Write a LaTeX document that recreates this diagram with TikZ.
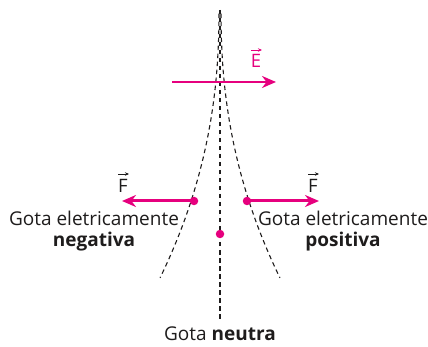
\documentclass[tikz,border=0pt]{standalone}
\usepackage{fontspec}
\setmainfont{Open Sans}
\usetikzlibrary{arrows.meta}
\definecolor{mag}{RGB}{230,0,126}
\definecolor{txt}{RGB}{30,28,28}
\begin{document}
\begin{tikzpicture}[x=1pt,y=-1pt,
  dashline/.style={draw=txt, line width=1.1pt, dash pattern=on 4.5pt off 3.5pt},
  force/.style={draw=mag, line width=3pt, -{Stealth[length=14pt,width=12pt]}},
  drop/.style={circle, fill=mag, inner sep=0pt, minimum size=8.5pt},
  lbl/.style={text=txt, font=\fontsize{19}{22}\selectfont, inner sep=0pt, anchor=base},
  veclbl/.style={font=\fontsize{18.5}{21}\selectfont, inner sep=0pt, anchor=base},
  vecarrow/.style={line width=0.8pt, -{Stealth[length=4pt,width=3.5pt]}}]
\useasboundingbox (0,0) rectangle (428,347);
% field lines
\coordinate (top) at (220,10);
\coordinate (bot) at (220,320);
\draw[dashline] (top) -- (bot);
\draw[dashline] plot[domain=0.01:1, samples=60] ({219-59*pow(\x,2.2)}, {11+267*\x});
\draw[dashline] plot[domain=0.01:1, samples=60] ({221+59*pow(\x,2.2)}, {11+267*\x});
% E field
\coordinate (Es) at (172,82);
\coordinate (Ee) at (276,82);
\draw[force, line width=2.4pt] (Es) -- (Ee);
\node[veclbl, text=mag] (E) at (256,68) {E};
\draw[vecarrow, draw=mag] ([xshift=-5pt,yshift=18pt]E.base) -- ([xshift=6pt,yshift=18pt]E.base);
% drops
\node[drop] (dL) at (194,201) {};
\node[drop] (dR) at (247,201) {};
\node[drop] (dM) at (220,234) {};
\coordinate (fL) at (122,201);
\coordinate (fR) at (319,201);
\draw[force] (dL.center) -- (fL);
\draw[force] (dR.center) -- (fR);
\node[veclbl, text=txt] (FL) at (123,193) {F};
\draw[vecarrow, draw=txt] ([xshift=-5pt,yshift=19pt]FL.base) -- ([xshift=6pt,yshift=19pt]FL.base);
\node[veclbl, text=txt] (FR) at (313,193) {F};
\draw[vecarrow, draw=txt] ([xshift=-5pt,yshift=19pt]FR.base) -- ([xshift=6pt,yshift=19pt]FR.base);
% labels
\node[lbl] (nl1) at (94,226) {Gota eletricamente};
\node[lbl] (nl2) at (94,247) {\bfseries negativa};
\node[lbl] (pl1) at (343,226) {Gota eletricamente};
\node[lbl] (pl2) at (343,247) {\bfseries positiva};
\node[lbl] (neu) at (220,340) {Gota \textbf{neutra}};
\end{tikzpicture}
\end{document}
